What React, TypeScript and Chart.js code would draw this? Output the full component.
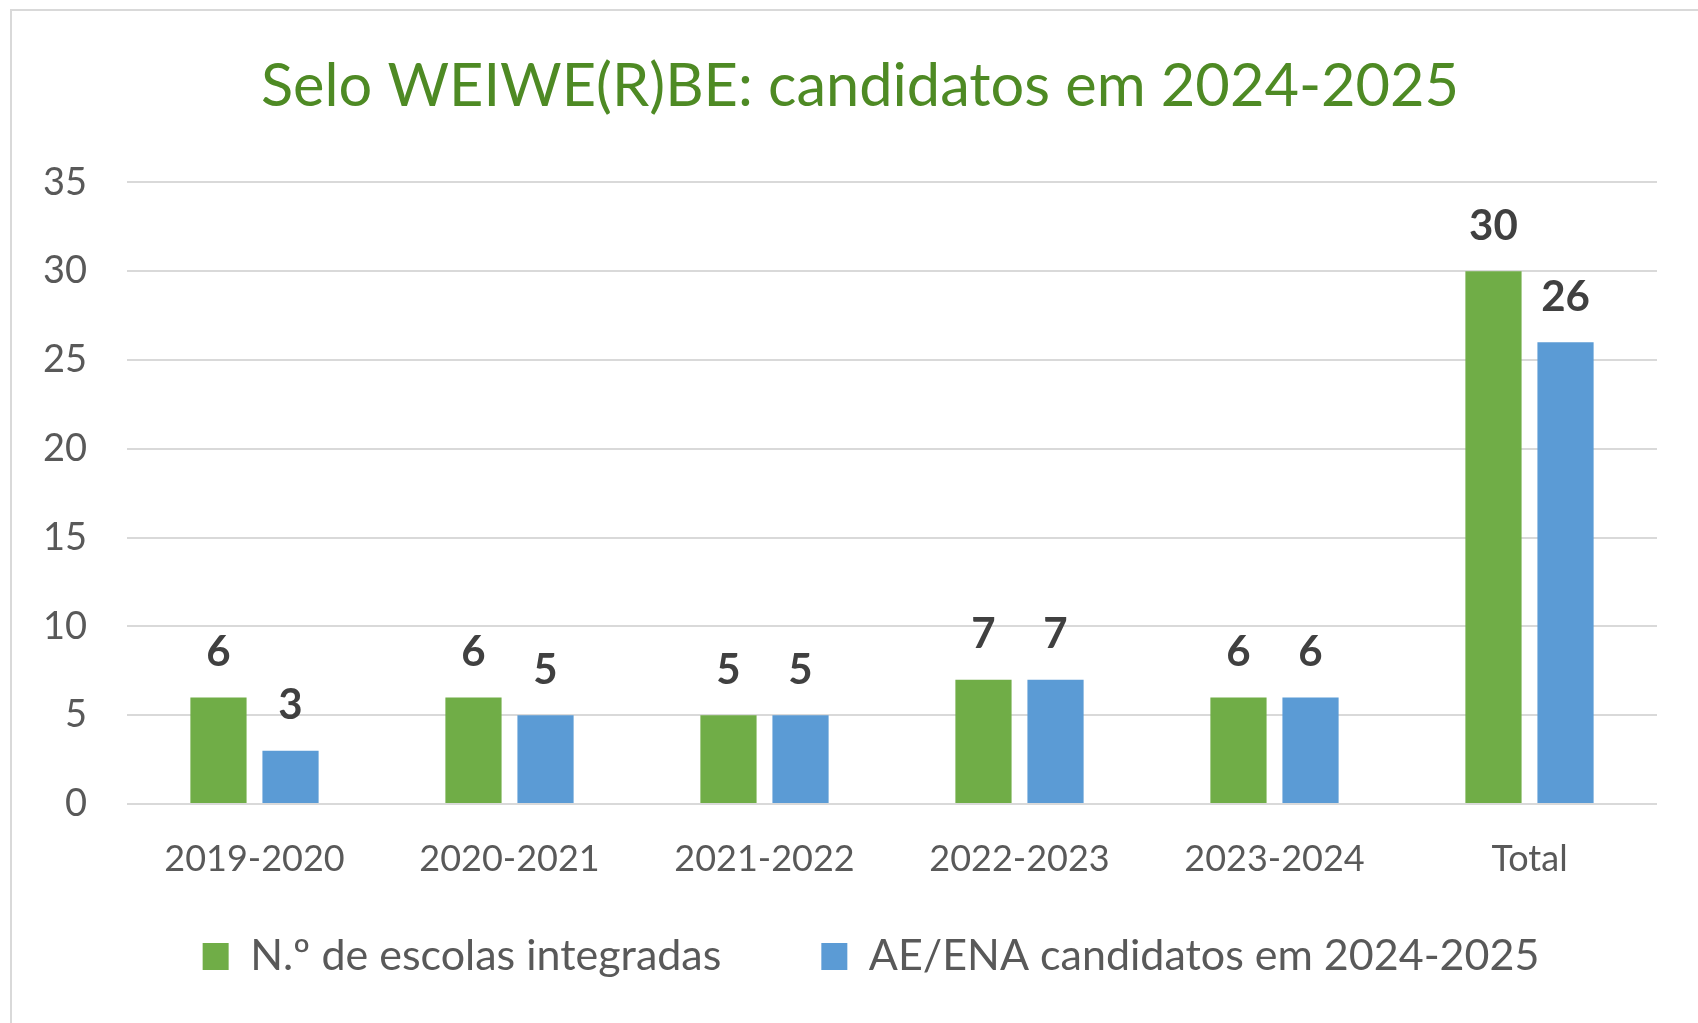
import React, { useEffect, useRef } from "react";
import { Chart, registerables } from "chart.js";

Chart.register(...registerables);

const categories = ["2019-2020", "2020-2021", "2021-2022", "2022-2023", "2023-2024", "Total"];
const escolasIntegradas = [6, 6, 5, 7, 6, 30];
const candidatos = [3, 5, 5, 7, 6, 26];
const seriesNames = ["N.º de escolas integradas", "AE/ENA candidatos em 2024-2025"];
const titleText = "Selo WEIWE(R)BE: candidatos em 2024-2025";
const yMax = 35;
const yStep = 5;

const FONT = "Lato, 'Open Sans', sans-serif";
const GREEN = "#70AD47";
const BLUE = "#5B9BD5";
const TEXT = "#595959";

const valueLabels = {
  id: "valueLabels",
  afterDatasetsDraw(chart: any) {
    const { ctx } = chart;
    ctx.save();
    ctx.font = `bold 42px ${FONT}`;
    ctx.fillStyle = "#404040";
    ctx.textAlign = "center";
    ctx.textBaseline = "middle";
    chart.data.datasets.forEach((ds: any, di: number) => {
      const meta = chart.getDatasetMeta(di);
      meta.data.forEach((bar: any, i: number) => {
        ctx.fillText(String(ds.data[i]), bar.x, bar.y - 45);
      });
    });
    ctx.restore();
  },
};

// lift the legend closer to the axis labels while keeping wide item spacing
const legendShift = {
  id: "legendShift",
  afterLayout(chart: any) {
    const lg = chart.legend;
    if (lg) {
      lg.top -= 47;
      lg.bottom -= 47;
      lg.left += 11;
      lg.right += 11;
    }
  },
};

export default function App() {
  const ref = useRef<HTMLCanvasElement | null>(null);
  useEffect(() => {
    if (!ref.current) return;
    const chart = new Chart(ref.current, {
      type: "bar",
      data: {
        labels: categories,
        datasets: [
          { label: seriesNames[0], data: escolasIntegradas, backgroundColor: GREEN },
          { label: seriesNames[1], data: candidatos, backgroundColor: BLUE },
        ],
      },
      options: {
        animation: false,
        responsive: false,
        maintainAspectRatio: false,
        layout: { padding: 0 },
        datasets: { bar: { categoryPercentage: 0.565, barPercentage: 0.78 } },
        scales: {
          x: {
            grid: { display: false, drawTicks: false },
            border: { display: false },
            ticks: { color: TEXT, font: { family: FONT, size: 36 }, padding: 34 },
            afterFit: (s: any) => { s.height = 78; },
          },
          y: {
            min: 0,
            max: yMax,
            ticks: { stepSize: yStep, color: TEXT, font: { family: FONT, size: 38 }, padding: 40 },
            grid: { color: "#d9d9d9", lineWidth: 2, drawTicks: false },
            border: { display: false },
            afterFit: (s: any) => { s.width = 115; },
          },
          yRightSpace: {
            type: "linear",
            position: "right",
            display: true,
            grid: { display: false, drawTicks: false },
            border: { display: false },
            ticks: { display: false },
            afterFit: (s: any) => { s.width = 51; },
          },
        },
        plugins: {
          title: {
            display: true,
            text: titleText,
            color: "#4E8A24",
            font: { family: FONT, size: 59.5, weight: "normal" },
            padding: { top: 40, bottom: 60 },
          },
          legend: {
            position: "bottom",
            labels: {
              color: TEXT,
              font: { family: FONT, size: 43 },
              boxWidth: 26,
              boxHeight: 27,
              padding: 100,
            },
          },
          tooltip: { enabled: false },
        },
      },
      plugins: [valueLabels, legendShift],
    });
    return () => chart.destroy();
  }, []);

  return (
    <div style={{ position: "fixed", left: 0, top: 0, width: 1698, height: 1023, overflow: "hidden", background: "#fff" }}>
      <div style={{ position: "absolute", left: 10, top: 9, width: 1700, height: 1100, border: "2px solid #d9d9d9", boxSizing: "border-box" }}>
        <canvas ref={ref} width={1696} height={1024} style={{ display: "block", width: 1696, height: 1024 }} />
      </div>
    </div>
  );
}
